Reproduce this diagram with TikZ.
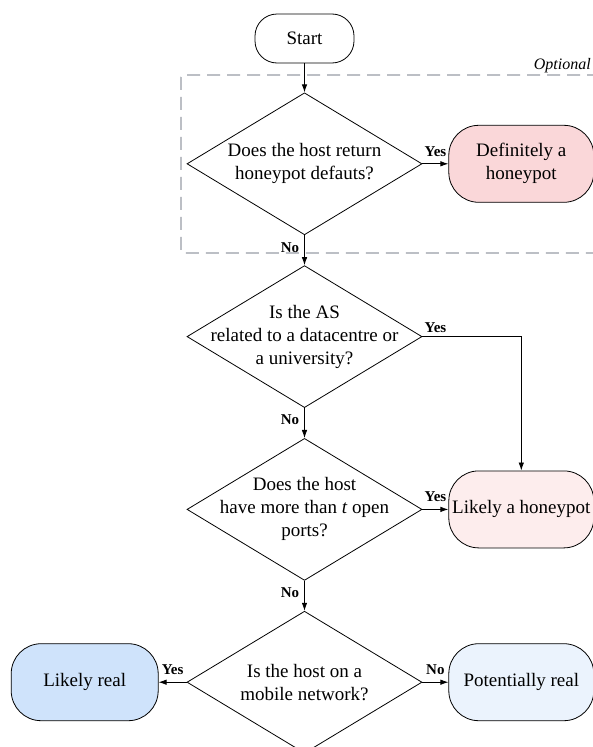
\documentclass[tikz,border=0pt]{standalone}
\usepackage{fontspec}
\setmainfont{Liberation Serif}
\usetikzlibrary{shapes.geometric}
\usetikzlibrary{arrows.meta}
\usetikzlibrary{positioning}

\definecolor{hardpink}{RGB}{250,215,217}
\definecolor{softpink}{RGB}{253,237,237}
\definecolor{hardblue}{RGB}{207,227,251}
\definecolor{softblue}{RGB}{235,243,253}
\definecolor{framegray}{RGB}{152,157,166}

\tikzset{
  term/.style={draw, rounded corners=30pt, minimum width=145pt, minimum height=77pt,
    align=center, line width=0.8pt},
  decision/.style={draw, diamond, minimum width=235pt, minimum height=142pt,
    inner sep=0pt, line width=0.8pt},
  dtext/.style={align=center},
  lbl/.style={font=\fontsize{15}{17}\selectfont\bfseries, inner sep=2pt},
  flow/.style={-{Latex[length=8pt,width=5.5pt]}, line width=0.8pt},
  frame/.style={draw=framegray, line width=1.3pt, dash pattern=on 13pt off 7pt, rounded corners=2pt},
}

\begin{document}
\begin{tikzpicture}[x=1pt, y=-1pt, font=\fontsize{19}{23}\selectfont]
\clip (0,0) rectangle (593,747);

\node[term, minimum width=99pt, minimum height=49pt, rounded corners=22pt] (start) at (304.5,38.5) {Start};

% optional check
\node[decision, below=29pt of start,
  label={[dtext]center:{Does the host return\\honeypot defauts?}}] (dflt) {};
\node[term, fill=hardpink, right=26pt of dflt] (defhp) {Definitely a\\honeypot};
\draw[flow] (start) -- (dflt);
\draw[flow] (dflt) -- node[lbl, above=5pt] (dflt-yes) {Yes} (defhp);
\draw[frame] (600,75) -- (181,75) -- (181,253) -- (600,253);
\node[anchor=south east, inner sep=1pt, font=\fontsize{16}{18}\selectfont\itshape] (opt) at (592,74) {Optional};

% AS
\node[decision, below=30pt of dflt,
  label={[dtext]center:{Is the AS\\related to a datacentre or\\a university?}}] (as) {};
\draw[flow] (dflt) -- node[lbl, left=3pt, pos=0.4] (dflt-no) {No} (as);

% open ports
\node[decision, below=30pt of as,
  label={[dtext]center:{Does the host\\have more than \textit{t} open\\ports?}}] (ports) {};
\node[term, fill=softpink, right=26pt of ports] (likhp) {Likely a honeypot};
\draw[flow] (as) -- node[lbl, left=3pt, pos=0.4] (as-no) {No} (ports);
\draw[flow] (as.east) -| node[lbl, above=2pt, pos=0.066] (as-yes) {Yes} (likhp.north);
\draw[flow] (ports) -- node[lbl, above=5pt] (ports-yes) {Yes} (likhp);

% mobile network
\node[decision, below=30pt of ports,
  label={[dtext]center:{Is the host on a\\mobile network?}}] (mob) {};
\node[term, fill=hardblue, left=28pt of mob, minimum width=147pt] (real) {Likely real};
\node[term, fill=softblue, right=26pt of mob] (potreal) {Potentially real};
\draw[flow] (ports) -- node[lbl, left=3pt, pos=0.4] (ports-no) {No} (mob);
\draw[flow] (mob) -- node[lbl, above=5pt] (mob-yes) {Yes} (real);
\draw[flow] (mob) -- node[lbl, above=5pt] (mob-no) {No} (potreal);
\end{tikzpicture}
\end{document}
